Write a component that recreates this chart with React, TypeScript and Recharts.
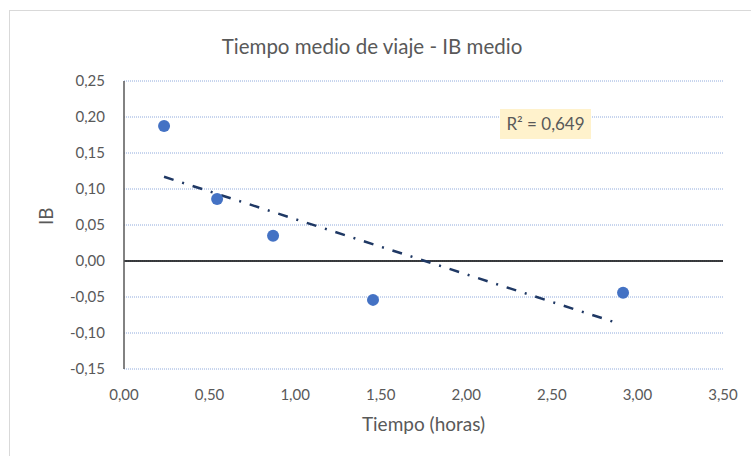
import React from 'react';
import {
  CartesianGrid,
  Label,
  ReferenceLine,
  Scatter,
  ScatterChart,
  XAxis,
  YAxis,
} from 'recharts';

// observed points: mean travel time (hours) vs mean IB
const tiempo = [0.234, 0.544, 0.871, 1.455, 2.916];
const ib = [0.1875, 0.086, 0.035, -0.054, -0.044];

// linear trendline end points as drawn
const trendX = [0.234, 2.88];
const trendY = [0.117, -0.086];

const xTicks = [0, 0.5, 1, 1.5, 2, 2.5, 3, 3.5];
const yTicks = [-0.15, -0.1, -0.05, 0, 0.05, 0.1, 0.15, 0.2, 0.25];

const title = 'Tiempo medio de viaje - IB medio';
const r2Text = 'R² = 0,649';

const points = tiempo.map((x, i) => ({ x, y: ib[i] }));
const trend = trendX.map((x, i) => ({ x, y: trendY[i] }));

const fmt = (v: number) => v.toFixed(2).replace('.', ',');
const FONT = 'Lato, "Open Sans", sans-serif';
const GREY = '#595959';

const Dot = (props: any) => <circle cx={props.cx} cy={props.cy} r={6} fill="#4472C4" />;

export default function App() {
  return (
    <div style={{ position: 'absolute', left: 0, top: 0, width: 751, height: 456, background: '#fff', fontFamily: FONT }}>
      <div
        style={{
          position: 'absolute',
          left: 9,
          top: 10,
          width: 760,
          height: 460,
          borderLeft: '1px solid #d9d9d9',
          borderTop: '1px solid #d9d9d9',
        }}
      />
      <ScatterChart width={751} height={456} margin={{ top: 81, right: 28, left: 64, bottom: 27 }}>
        <text x={372} y={54} textAnchor="middle" fontSize={20.5} fill={GREY} fontFamily={FONT}>
          {title}
        </text>
        <CartesianGrid vertical={false} stroke="#8faadc" strokeDasharray="1 1" />
        <XAxis
          type="number"
          dataKey="x"
          domain={[0, 3.5]}
          ticks={xTicks}
          tickFormatter={fmt}
          axisLine={false}
          tickLine={false}
          tickMargin={14}
          height={60}
          tick={{ fontSize: 15, fill: GREY, fontFamily: FONT }}
          allowDataOverflow
        >
          <Label value="Tiempo (horas)" position="insideBottom" offset={-2} fill={GREY} fontSize={19} fontFamily={FONT} />
        </XAxis>
        <YAxis
          type="number"
          dataKey="y"
          domain={[-0.15, 0.25]}
          ticks={yTicks}
          tickFormatter={fmt}
          axisLine={{ stroke: GREY, strokeWidth: 1.5 }}
          tickLine={false}
          tickMargin={13}
          width={60}
          tick={{ fontSize: 15, fill: GREY, fontFamily: FONT }}
          allowDataOverflow
        >
          <Label value="IB" angle={-90} position="insideLeft" offset={-18} fill={GREY} fontSize={19} fontFamily={FONT} />
        </YAxis>
        <ReferenceLine y={0} stroke="#000" strokeWidth={1.5} />
        <Scatter
          data={trend}
          line={{ stroke: '#1f3864', strokeWidth: 2.5, strokeDasharray: '10 9 2 9' }}
          shape={() => null}
          isAnimationActive={false}
        />
        <Scatter data={points} shape={Dot} isAnimationActive={false} />
      </ScatterChart>
      <div
        style={{
          position: 'absolute',
          left: 500,
          top: 109,
          width: 91,
          height: 30,
          background: '#fff2cc',
          color: GREY,
          fontSize: 17,
          lineHeight: '30px',
          textAlign: 'center',
        }}
      >
        {r2Text}
      </div>
    </div>
  );
}
